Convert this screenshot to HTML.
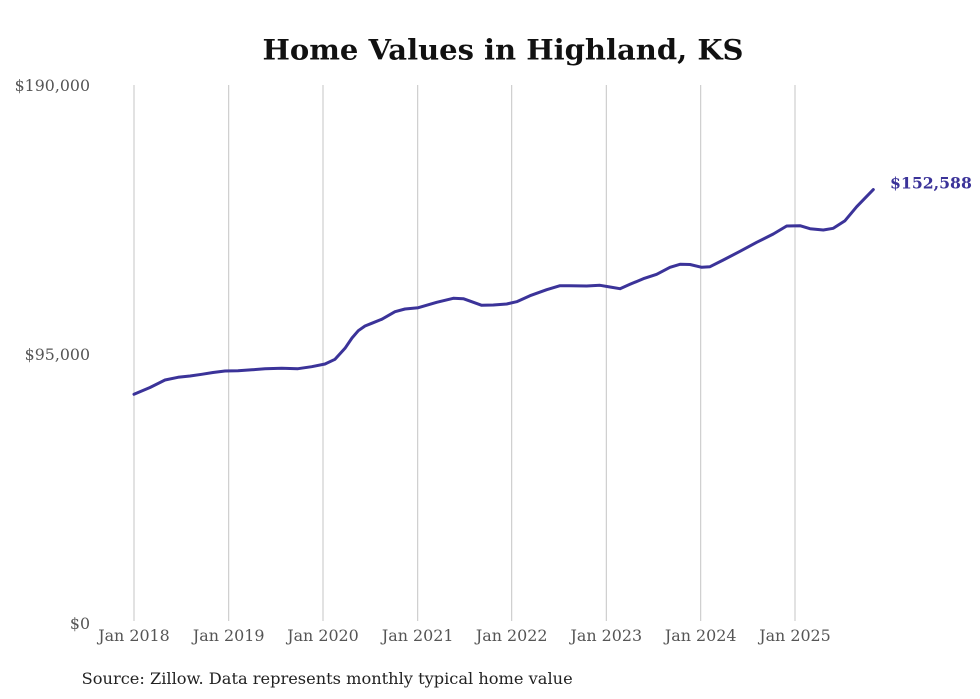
<!DOCTYPE html>
<html>
<head>
<meta charset="utf-8">
<style>
html,body{margin:0;padding:0;background:#fff;}
svg{display:block;}
text{font-family:"DejaVu Serif","Liberation Serif",serif;}
</style>
</head>
<body>
<svg width="980" height="699" viewBox="0 0 980 699" xmlns="http://www.w3.org/2000/svg">
<rect width="980" height="699" fill="#fff"/>
<text x="503" y="59.3" text-anchor="middle" font-size="28" font-weight="bold" fill="#111" textLength="481" lengthAdjust="spacingAndGlyphs">Home Values in Highland, KS</text>
<g stroke="#c4c4c4" stroke-width="1">
<line x1="134" y1="85" x2="134" y2="621"/>
<line x1="228.7" y1="85" x2="228.7" y2="621"/>
<line x1="323" y1="85" x2="323" y2="621"/>
<line x1="417.7" y1="85" x2="417.7" y2="621"/>
<line x1="511.7" y1="85" x2="511.7" y2="621"/>
<line x1="606.3" y1="85" x2="606.3" y2="621"/>
<line x1="700.7" y1="85" x2="700.7" y2="621"/>
<line x1="795" y1="85" x2="795" y2="621"/>
</g>
<g font-size="15.8" fill="#555" text-anchor="end">
<text x="90" y="91">$190,000</text>
<text x="90" y="360">$95,000</text>
<text x="90" y="629">$0</text>
</g>
<g font-size="15.9" fill="#555" text-anchor="middle">
<text x="134" y="641">Jan 2018</text>
<text x="228.7" y="641">Jan 2019</text>
<text x="323" y="641">Jan 2020</text>
<text x="417.7" y="641">Jan 2021</text>
<text x="511.7" y="641">Jan 2022</text>
<text x="606.3" y="641">Jan 2023</text>
<text x="700.7" y="641">Jan 2024</text>
<text x="795" y="641">Jan 2025</text>
</g>
<polyline fill="none" stroke="#3b3399" stroke-width="3" stroke-linejoin="round" stroke-linecap="round" points="134,394.3 150,387.5 165,380 178,377.3 190,376 201.7,374.3 213,372.5 225,371 238,370.7 252,369.8 265,368.8 281.7,368.3 298,368.7 311.7,366.7 325,364 335,359.3 345,348.3 352,338 358.3,330.7 365,326 371.7,323.3 381.7,319.3 395,311.7 405,309 418.3,307.7 436.7,302.3 453.3,298.3 463.3,298.7 471.7,301.7 481.7,305.3 493.3,305 506.7,304 516.7,301.7 530,295.7 546.7,289.7 560,285.7 570,285.7 586.7,286 600,285.3 610,287 620,288.7 630,284.3 643.3,278.7 656.7,274.3 670,267.3 680,264.3 690,264.5 701.7,267.3 710,266.7 723.3,260 740,251.3 756.7,242.3 773.3,234 786.7,226 800,225.7 810,228.7 823.3,230 833.3,228.3 845,220.7 856.7,206.7 873.3,189.6"/>
<text x="890" y="188.3" font-size="15.7" font-weight="bold" fill="#3b3399">$152,588</text>
<text x="81.7" y="684" font-size="16.2" fill="#222" textLength="491" lengthAdjust="spacingAndGlyphs">Source: Zillow. Data represents monthly typical home value</text>
</svg>
</body>
</html>
